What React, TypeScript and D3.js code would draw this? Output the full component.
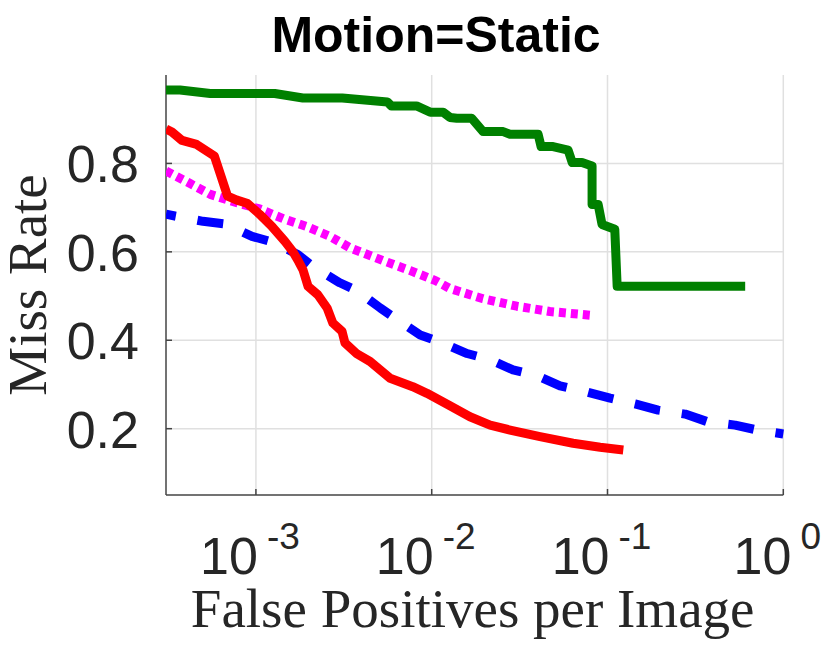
import React, { useEffect, useRef } from 'react';
import * as d3 from 'd3';

type Pt = [number, number];

// FPPI, miss rate
const greenCurve: Pt[] = [
  [3.08e-4, 0.966], [3.7e-4, 0.966], [5.5e-4, 0.958], [1.28e-3, 0.958], [1.85e-3, 0.948],
  [3.1e-3, 0.948], [5.6e-3, 0.939], [5.9e-3, 0.93], [8.2e-3, 0.93], [9.8e-3, 0.916],
  [0.0116, 0.916], [0.0127, 0.904], [0.0139, 0.902], [0.0169, 0.902], [0.0196, 0.872],
  [0.0255, 0.872], [0.0279, 0.866], [0.0403, 0.866], [0.0419, 0.838], [0.049, 0.838],
  [0.0597, 0.83], [0.063, 0.802], [0.0716, 0.802], [0.0817, 0.794], [0.0817, 0.707],
  [0.0885, 0.707], [0.0931, 0.662], [0.11, 0.651], [0.1135, 0.522], [0.607, 0.522],
];

const redCurve: Pt[] = [
  [3.08e-4, 0.878], [3.33e-4, 0.871], [3.8e-4, 0.852], [4.6e-4, 0.843], [5.8e-4, 0.817],
  [6.9e-4, 0.726], [7.8e-4, 0.717], [8.9e-4, 0.71], [1.05e-3, 0.685], [1.23e-3, 0.658],
  [1.46e-3, 0.624], [1.62e-3, 0.601], [1.75e-3, 0.578], [1.85e-3, 0.56], [1.98e-3, 0.522],
  [2.25e-3, 0.503], [2.54e-3, 0.473], [2.74e-3, 0.439], [3.09e-3, 0.42], [3.21e-3, 0.394],
  [3.76e-3, 0.369], [4.46e-3, 0.352], [5.8e-3, 0.314], [7.8e-3, 0.295], [9.4e-3, 0.28],
  [0.0127, 0.252], [0.0165, 0.227], [0.0215, 0.208], [0.0279, 0.197], [0.0413, 0.182],
  [0.0637, 0.167], [0.0908, 0.158], [0.123, 0.152],
];

const magentaCurve: Pt[] = [
  [3.08e-4, 0.783], [4.2e-4, 0.755], [5.5e-4, 0.73], [7.8e-4, 0.711], [1.05e-3, 0.697],
  [1.43e-3, 0.675], [1.95e-3, 0.657], [2.64e-3, 0.635], [3.43e-3, 0.609], [5.3e-3, 0.58],
  [7.5e-3, 0.558], [0.0105, 0.535], [0.0127, 0.517], [0.0196, 0.494], [0.0305, 0.477],
  [0.047, 0.465], [0.083, 0.456],
];

const blueCurve: Pt[] = [
  [3.08e-4, 0.685], [3.46e-4, 0.681], [5.0e-4, 0.669], [6.7e-4, 0.663], [9.5e-4, 0.635],
  [1.25e-3, 0.622], [1.73e-3, 0.594], [2.11e-3, 0.567], [3.0e-3, 0.53], [3.8e-3, 0.511],
  [5.1e-3, 0.473], [6.4e-3, 0.446], [8.6e-3, 0.412], [0.0115, 0.394], [0.0159, 0.37],
  [0.0215, 0.356], [0.029, 0.333], [0.0397, 0.32], [0.0537, 0.297], [0.0745, 0.284],
  [0.1035, 0.269], [0.1435, 0.256], [0.194, 0.242], [0.2765, 0.233], [0.369, 0.216],
  [0.532, 0.208], [0.71, 0.197], [1.0, 0.188],
];

const xTicks = [1e-3, 1e-2, 1e-1, 1];
const xTickExps = ['-3', '-2', '-1', '0'];
const yTicks = [0.2, 0.4, 0.6, 0.8];

const W = 830;
const H = 649;

export default function App() {
  const svgRef = useRef<SVGSVGElement>(null);

  useEffect(() => {
    if (!svgRef.current) return;
    const svg = d3.select(svgRef.current);
    svg.selectAll('*').remove();

    const plot = { left: 166, right: 783.3, top: 75, bottom: 495 };

    const x = d3.scaleLog().domain([3.08e-4, 1]).range([plot.left, plot.right]);
    const y = d3.scaleLinear().domain([0.05, 1]).range([plot.bottom, plot.top]);

    const sans = 'Helvetica, "Liberation Sans", Arial, sans-serif';
    const serif = '"Liberation Serif", "Times New Roman", serif';

    // grid
    svg.append('g')
      .selectAll('line')
      .data(xTicks)
      .enter()
      .append('line')
      .attr('x1', (d) => x(d)).attr('x2', (d) => x(d))
      .attr('y1', plot.top).attr('y2', plot.bottom)
      .attr('stroke', '#e0e0e0').attr('stroke-width', 1.5);

    svg.append('g')
      .selectAll('line')
      .data(yTicks)
      .enter()
      .append('line')
      .attr('x1', plot.left).attr('x2', plot.right)
      .attr('y1', (d) => y(d)).attr('y2', (d) => y(d))
      .attr('stroke', '#e0e0e0').attr('stroke-width', 1.5);

    // axes lines + inward ticks
    const axisColor = '#444';
    svg.append('line')
      .attr('x1', plot.left).attr('x2', plot.left)
      .attr('y1', plot.top).attr('y2', plot.bottom)
      .attr('stroke', axisColor).attr('stroke-width', 1.5);
    svg.append('line')
      .attr('x1', plot.left).attr('x2', plot.right)
      .attr('y1', plot.bottom).attr('y2', plot.bottom)
      .attr('stroke', axisColor).attr('stroke-width', 1.5);

    svg.append('g')
      .selectAll('line')
      .data(yTicks)
      .enter()
      .append('line')
      .attr('x1', plot.left).attr('x2', plot.left + 6)
      .attr('y1', (d) => y(d)).attr('y2', (d) => y(d))
      .attr('stroke', axisColor).attr('stroke-width', 1.5);

    svg.append('g')
      .selectAll('line')
      .data(xTicks)
      .enter()
      .append('line')
      .attr('x1', (d) => x(d)).attr('x2', (d) => x(d))
      .attr('y1', plot.bottom).attr('y2', plot.bottom - 6)
      .attr('stroke', axisColor).attr('stroke-width', 1.5);

    // curves
    const clipId = 'plot-clip';
    svg.append('clipPath').attr('id', clipId)
      .append('rect')
      .attr('x', plot.left).attr('y', plot.top - 10)
      .attr('width', plot.right - plot.left + 10)
      .attr('height', plot.bottom - plot.top + 10);

    const line = d3.line<Pt>().x((d) => x(d[0])).y((d) => y(d[1]));
    const curves = svg.append('g').attr('clip-path', `url(#${clipId})`);

    const series = [
      { data: greenCurve, color: '#008000', dash: null as string | null, offset: 0 },
      { data: magentaCurve, color: '#ff00ff', dash: '7 5', offset: 0 },
      { data: blueCurve, color: '#0000ff', dash: '26 22', offset: 16 },
      { data: redCurve, color: '#ff0000', dash: null, offset: 0 },
    ];

    series.forEach((s) => {
      curves.append('path')
        .attr('d', line(s.data) ?? '')
        .attr('fill', 'none')
        .attr('stroke', s.color)
        .attr('stroke-width', 9)
        .attr('stroke-linejoin', 'round')
        .attr('stroke-linecap', 'butt')
        .attr('stroke-dasharray', s.dash)
        .attr('stroke-dashoffset', s.offset);
    });

    // y tick labels
    svg.append('g')
      .selectAll('text')
      .data(yTicks)
      .enter()
      .append('text')
      .attr('x', 139)
      .attr('y', (d) => y(d) + 19)
      .attr('text-anchor', 'end')
      .attr('font-family', sans)
      .attr('font-size', 52)
      .attr('fill', '#262626')
      .text((d) => d3.format('.1f')(d));

    // x tick labels with superscript exponents
    const xl = svg.append('g')
      .selectAll('text')
      .data(xTicks)
      .enter()
      .append('text')
      .attr('x', (d) => x(d) - 6)
      .attr('y', 574)
      .attr('text-anchor', 'middle')
      .attr('font-family', sans)
      .attr('font-size', 52)
      .attr('fill', '#262626');
    xl.append('tspan').text('10');
    xl.append('tspan')
      .attr('dx', 9)
      .attr('dy', -25)
      .attr('font-size', 37)
      .text((_, i) => xTickExps[i]);

    // axis titles
    svg.append('text')
      .attr('x', (plot.left + plot.right) / 2 - 2)
      .attr('y', 627)
      .attr('text-anchor', 'middle')
      .attr('font-family', serif)
      .attr('font-size', 55)
      .attr('fill', '#262626')
      .text('False Positives per Image');

    svg.append('text')
      .attr('transform', `translate(46,${(plot.top + plot.bottom) / 2}) rotate(-90)`)
      .attr('text-anchor', 'middle')
      .attr('font-family', serif)
      .attr('font-size', 55)
      .attr('fill', '#262626')
      .text('Miss Rate');

    // title
    svg.append('text')
      .attr('x', 436)
      .attr('y', 52)
      .attr('text-anchor', 'middle')
      .attr('font-family', sans)
      .attr('font-weight', 'bold')
      .attr('font-size', 50)
      .attr('fill', '#000')
      .text('Motion=Static');
  }, []);

  return (
    <svg
      ref={svgRef}
      width={W}
      height={H}
      style={{ position: 'absolute', left: 0, top: 0, background: '#fff' }}
    />
  );
}
